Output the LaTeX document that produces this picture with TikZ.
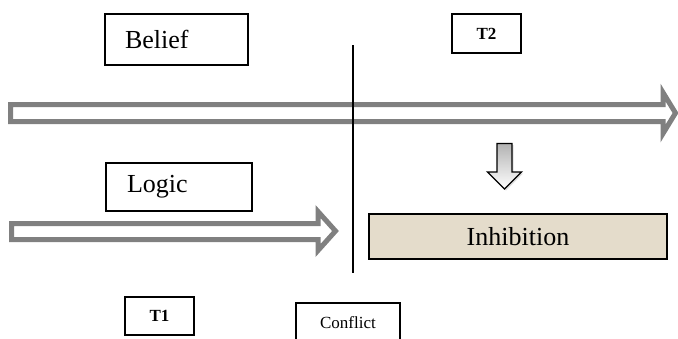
\documentclass[tikz,border=0pt]{standalone}
\usepackage{fontspec}
\setmainfont{Liberation Serif}
\usetikzlibrary{shadows}
\definecolor{arrowgray}{RGB}{128,128,128}
\definecolor{parchment}{RGB}{228,220,203}
\begin{document}
\begin{tikzpicture}[x=1pt,y=-1pt,
  box/.style={draw=black, line width=1.4pt, fill=white, inner ysep=0pt},
  bigtext/.style={font=\fontsize{26}{30}\selectfont},
  smalltext/.style={font=\fontsize{17}{20}\selectfont},
  hollow/.style={draw=arrowgray, line width=5pt, fill=white, line join=miter},
  divider/.style={draw=black, line width=1.5pt}]
\useasboundingbox (0,0) rectangle (678,338);
\clip (0,0) rectangle (678,338);

% long hollow arrow across the top
\path[hollow] (10.5,104.5) -- (663,104.5) -- (663,92.5) -- (675.5,113)
  -- (663,133.5) -- (663,121.5) -- (10.5,121.5) -- cycle;

% shorter hollow arrow below
\path[hollow] (11.5,223.5) -- (318,223.5) -- (318,211.5) -- (335.5,231)
  -- (318,250.5) -- (318,239.5) -- (11.5,239.5) -- cycle;

% vertical divider
\coordinate (divtop) at (353,45);
\coordinate (divbot) at (353,273);
\draw[divider] (divtop) -- (divbot);

% labelled boxes
\node[box, bigtext, minimum width=143pt, minimum height=51pt,
  inner xsep=20pt, text width=103pt, align=left] (belief) at (176.5,39.5) {Belief};
\node[box, bigtext, minimum width=146pt, minimum height=48pt,
  inner xsep=21pt, text width=104pt, align=left] (logic) at (179,187) {Logic};
\node[box, smalltext, font=\fontsize{17}{20}\selectfont\bfseries,
  minimum width=69pt, minimum height=39pt] (t2) at (486.5,33.5) {T2};
\node[box, smalltext, font=\fontsize{17}{20}\selectfont\bfseries,
  minimum width=69pt, minimum height=38pt] (t1) at (159.5,316) {T1};
\node[box, smalltext, minimum width=104pt, minimum height=40pt] (conflict)
  at (348,323) {Conflict};
\node[box, bigtext, fill=parchment, minimum width=298pt, minimum height=45pt]
  (inhibition) at (518,236.5) {\raisebox{-4pt}{Inhibition}};

% shaded down arrow above the inhibition box
\path[draw=black, line width=1.3pt, line join=miter,
  top color=black!30, bottom color=white,
  drop shadow={shadow xshift=1.5pt, shadow yshift=-1.5pt, opacity=0.25}]
  (497,143.5) -- (512,143.5) -- (512,172) -- (521.5,172) -- (504.5,189)
  -- (487.5,172) -- (497,172) -- cycle;
\end{tikzpicture}
\end{document}
